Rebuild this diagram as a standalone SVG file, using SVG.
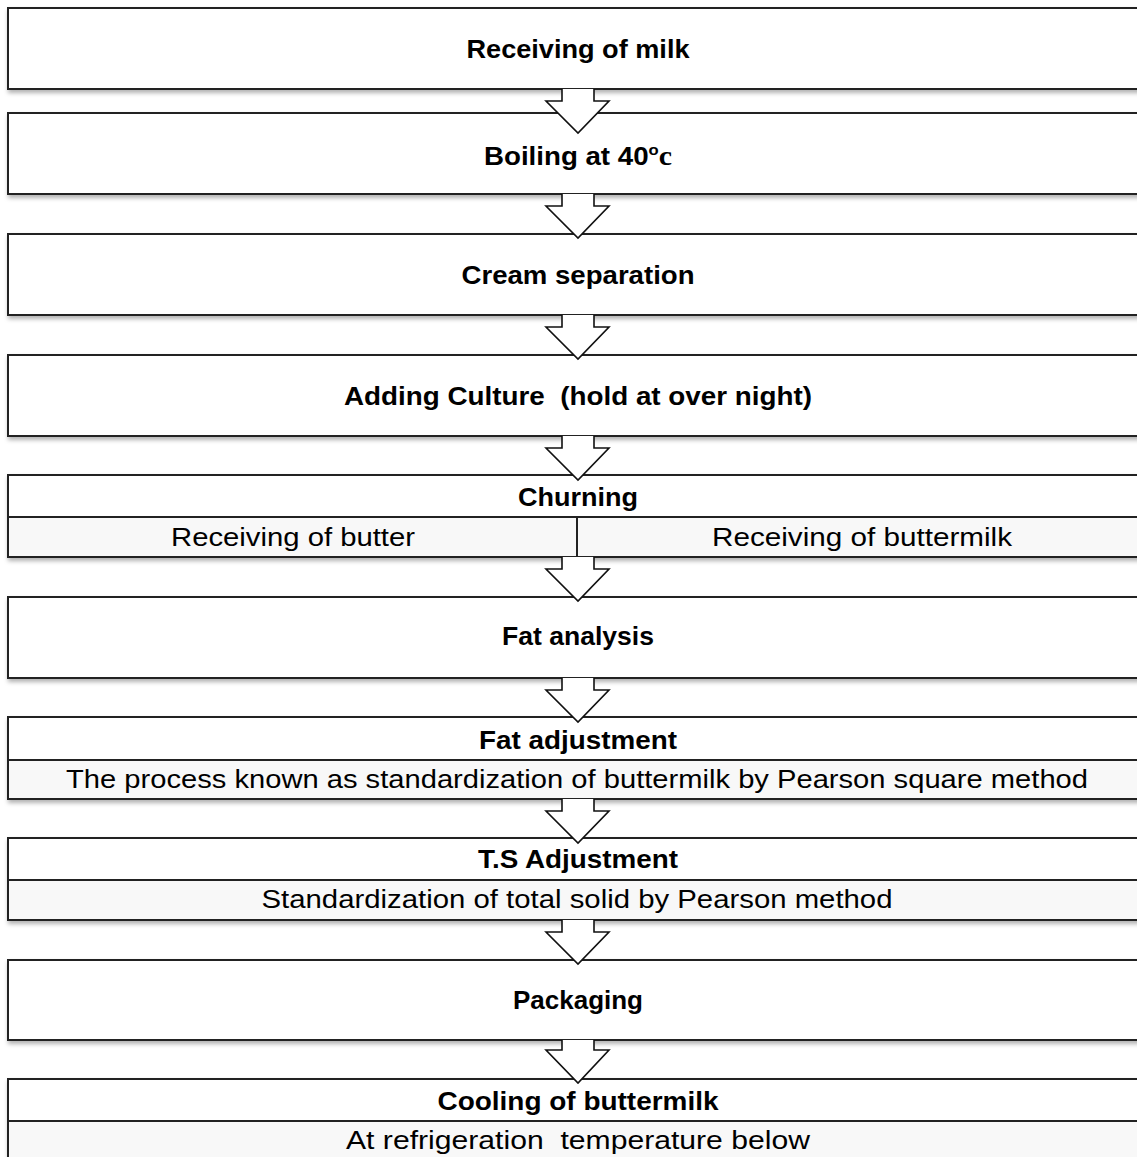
<svg xmlns="http://www.w3.org/2000/svg" width="1137" height="1157" viewBox="0 0 1137 1157">
<defs>
<filter id="sh" x="-5%" y="-20%" width="110%" height="150%">
<feDropShadow dx="1" dy="3" stdDeviation="2" flood-color="#000" flood-opacity="0.3"/>
</filter>
</defs>
<style>
.box{fill:#fff;stroke:#222;stroke-width:2;filter:url(#sh)}
.sub{fill:#f8f8f8;stroke:#222;stroke-width:2}
.b{font-family:"Liberation Sans",Arial,sans-serif;font-weight:bold;font-size:25px;fill:#000;text-anchor:middle}
.r{font-family:"Liberation Sans",Arial,sans-serif;font-size:25px;fill:#000;text-anchor:middle}
.arr{fill:#fff;stroke:#111;stroke-width:1.6;stroke-linejoin:miter}
</style>
<rect width="1137" height="1157" fill="#fff"/>
<g id="n1"><rect class="box" x="8" y="8" width="1140" height="81"/><text class="b" x="578" y="58" textLength="223" lengthAdjust="spacingAndGlyphs">Receiving of milk</text></g>
<g id="n2"><rect class="box" x="8" y="113" width="1140" height="81"/><text class="b" x="578" y="165" textLength="188" lengthAdjust="spacingAndGlyphs">Boiling at 40<tspan font-size="15" dy="-10">o</tspan><tspan dy="10" font-size="27" font-family="Liberation Serif,serif">c</tspan></text></g>
<g id="n3"><rect class="box" x="8" y="234" width="1140" height="81"/><text class="b" x="578" y="284" textLength="233" lengthAdjust="spacingAndGlyphs">Cream separation</text></g>
<g id="n4"><rect class="box" x="8" y="355" width="1140" height="81"/><text class="b" x="578" y="405" textLength="468" lengthAdjust="spacingAndGlyphs" xml:space="preserve">Adding Culture  (hold at over night)</text></g>
<g id="n5"><rect class="box" x="8" y="475" width="1140" height="82"/><rect class="sub" x="8" y="517" width="569" height="40"/><rect class="sub" x="577" y="517" width="571" height="40"/><text class="b" x="578" y="506" textLength="120" lengthAdjust="spacingAndGlyphs">Churning</text><text class="r" x="293" y="546" textLength="244" lengthAdjust="spacingAndGlyphs">Receiving of butter</text><text class="r" x="862" y="546" textLength="300" lengthAdjust="spacingAndGlyphs">Receiving of buttermilk</text></g>
<g id="n6"><rect class="box" x="8" y="597" width="1140" height="81"/><text class="b" x="578" y="645" textLength="152" lengthAdjust="spacingAndGlyphs">Fat analysis</text></g>
<g id="n7"><rect class="box" x="8" y="717" width="1140" height="82"/><rect class="sub" x="8" y="760" width="1140" height="39"/><text class="b" x="578" y="749" textLength="198" lengthAdjust="spacingAndGlyphs">Fat adjustment</text><text class="r" x="577" y="788" textLength="1022" lengthAdjust="spacingAndGlyphs">The process known as standardization of buttermilk by Pearson square method</text></g>
<g id="n8"><rect class="box" x="8" y="838" width="1140" height="82"/><rect class="sub" x="8" y="880" width="1140" height="40"/><text class="b" x="578" y="868" textLength="200" lengthAdjust="spacingAndGlyphs">T.S Adjustment</text><text class="r" x="577" y="908" textLength="631" lengthAdjust="spacingAndGlyphs">Standardization of total solid by Pearson method</text></g>
<g id="n9"><rect class="box" x="8" y="960" width="1140" height="80"/><text class="b" x="578" y="1009" textLength="130" lengthAdjust="spacingAndGlyphs">Packaging</text></g>
<g id="n10"><rect class="box" x="8" y="1079" width="1140" height="90"/><rect class="sub" x="8" y="1121" width="1140" height="48"/><text class="b" x="578" y="1110" textLength="281" lengthAdjust="spacingAndGlyphs">Cooling of buttermilk</text><text class="r" x="578" y="1149" textLength="464" lengthAdjust="spacingAndGlyphs" xml:space="preserve">At refrigeration  temperature below</text></g>
<g id="connectors">
<path class="arr" d="M562,89 V101 H546 L578,133 L609,101 H594 V89"/>
<path class="arr" d="M562,194 V206 H546 L578,238 L609,206 H594 V194"/>
<path class="arr" d="M562,315 V327 H546 L578,359 L609,327 H594 V315"/>
<path class="arr" d="M562,436 V448 H546 L578,480 L609,448 H594 V436"/>
<path class="arr" d="M562,557 V569 H546 L578,601 L609,569 H594 V557"/>
<path class="arr" d="M562,678 V690 H546 L578,722 L609,690 H594 V678"/>
<path class="arr" d="M562,799 V811 H546 L578,843 L609,811 H594 V799"/>
<path class="arr" d="M562,920 V932 H546 L578,964 L609,932 H594 V920"/>
<path class="arr" d="M562,1040 V1050 H546 L578,1083 L609,1050 H594 V1040"/>
</g>
</svg>
